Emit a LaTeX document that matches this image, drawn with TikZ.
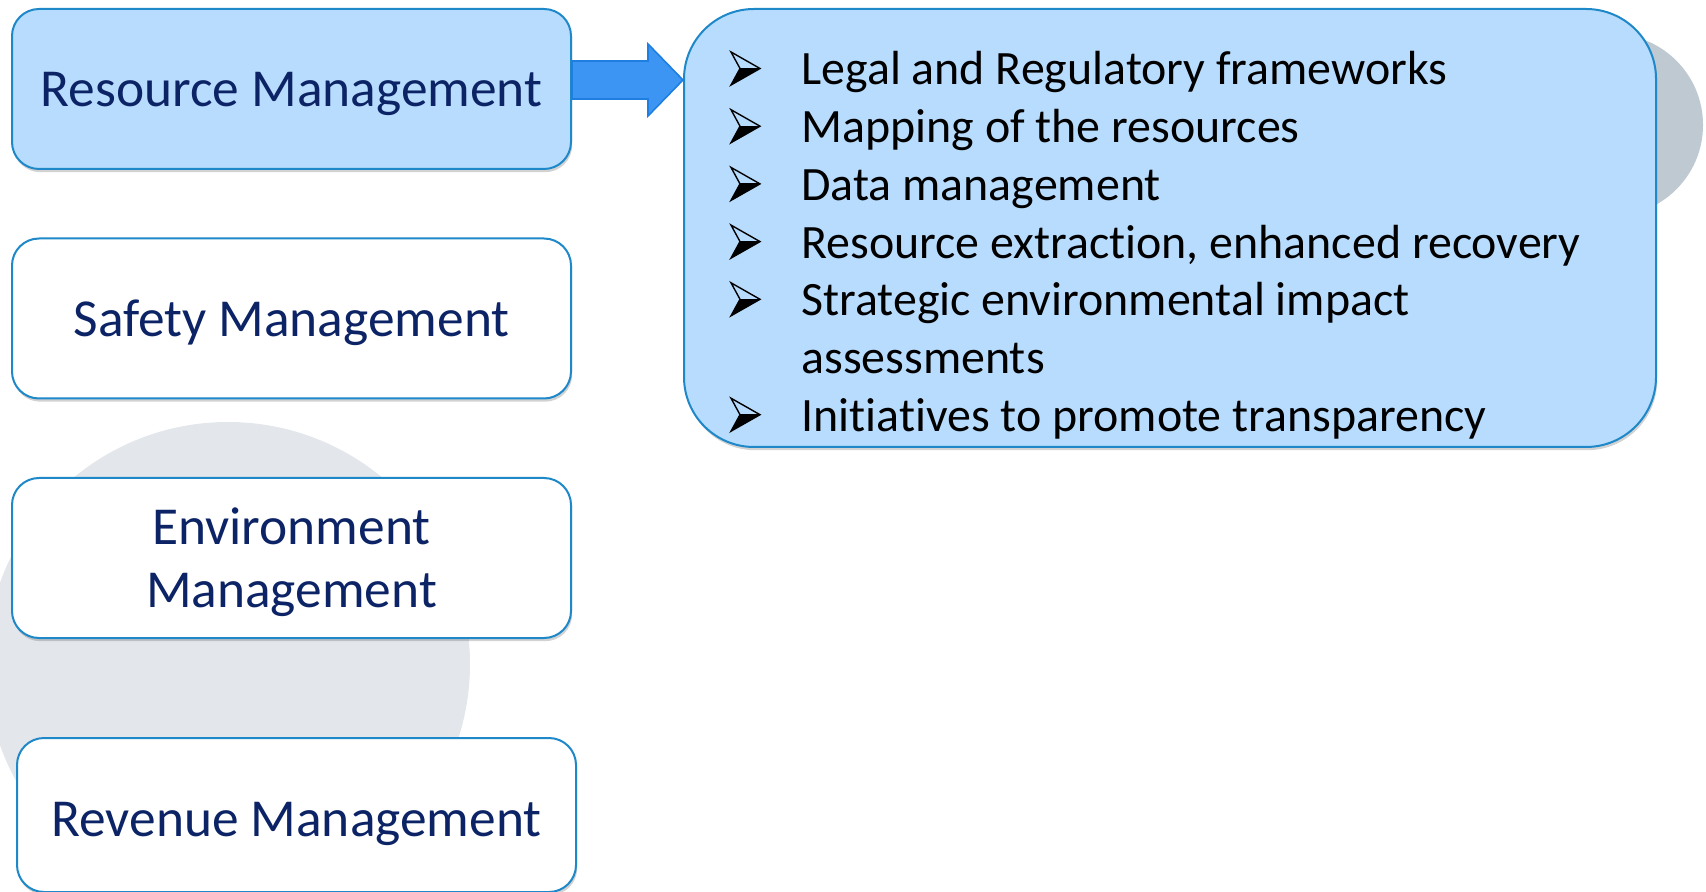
\documentclass[tikz,border=0pt]{standalone}
\usepackage{fontspec}
\setmainfont{Carlito}[Ligatures=NoCommon]
\usetikzlibrary{shadows}
\definecolor{boxblue}{HTML}{B8DCFD}
\definecolor{edgeblue}{HTML}{1E88C8}
\definecolor{navy}{HTML}{0C2466}
\definecolor{arrowblue}{HTML}{3C95F2}
\definecolor{arrowedge}{HTML}{1F7FE0}
\definecolor{lgray}{HTML}{E3E7EB}
\definecolor{dgray}{HTML}{BFC9D1}
\begin{document}
\begin{tikzpicture}[x=0.5pt,y=-0.5pt,
  softshadow/.style={drop shadow={shadow xshift=0.6pt,shadow yshift=-1.6pt,opacity=0.25,fill=black!70}},
  boxlabel/.style={font=\fontsize{26.7}{31.5}\selectfont,text=navy,align=center,yshift=-2.3pt},
  mgmt/.style={draw=edgeblue,line width=1pt,rounded corners=13.5pt,minimum width=279.5pt,
    minimum height=80pt,fill=white,softshadow},
  listtext/.style={anchor=base west,inner sep=0pt,font=\fontsize{23.95}{28.9}\selectfont,text=black},
  bulletarrow/.pic={
    \fill[black] (9,-16.5) -- (29,-16.5) -- (0,0) -- cycle;
    \draw[black,line width=0.7pt,line join=miter] (0,-33) -- (29,-16.5) -- (0,0) -- (9,-16.5) -- cycle;
    \draw[black,line width=0.5pt] (9,-16.5) -- (29,-16.5);
  }]
\useasboundingbox (0,0) rectangle (1706,892);
% background circles
\fill[lgray] (228,664) circle [radius=121pt];
\fill[dgray] (1612,125) circle [radius=45.5pt];
% left boxes
\node[mgmt,fill=boxblue,label={[boxlabel]center:Resource Management}] (res) at (291.5,89) {};
\node[mgmt,label={[boxlabel]center:Safety Management}] (saf) at (291.5,318.5) {};
\node[mgmt,label={[boxlabel]center:Environment\\Management}] (env) at (291.5,558) {};
\node[mgmt,minimum height=77pt,label={[boxlabel,yshift=-2pt]center:Revenue Management}] (rev) at (296.5,815) {};
% list box
\node[draw=edgeblue,line width=1pt,fill=boxblue,rounded corners=35pt,
  minimum width=486pt,minimum height=219pt,softshadow] (list) at (1170,228) {};
% block arrow
\draw[fill=arrowblue,draw=arrowedge,line width=0.8pt]
  (res.east|-0,61) -- (648,61) -- (648,44) -- (list.west|-0,80) -- (648,116)
  -- (648,99) -- (res.east|-0,99) -- cycle;
% list items
\pic at (731,85) {bulletarrow};
\node[listtext] (l1) at (801,85) {Legal and Regulatory frameworks};
\pic at (731,142.7) {bulletarrow};
\node[listtext] (l2) at (801,142.7) {Mapping of the resources};
\pic at (731,200.4) {bulletarrow};
\node[listtext] (l3) at (801,200.4) {Data management};
\pic at (731,258.1) {bulletarrow};
\node[listtext] (l4) at (801,258.1) {Resource extraction, enhanced recovery};
\pic at (731,315.8) {bulletarrow};
\node[listtext] (l5) at (801,315.8) {Strategic environmental impact};
\node[listtext] (l6) at (801,373.5) {assessments};
\pic at (731,431.2) {bulletarrow};
\node[listtext] (l7) at (801,431.2) {Initiatives to promote transparency};
\end{tikzpicture}
\end{document}
